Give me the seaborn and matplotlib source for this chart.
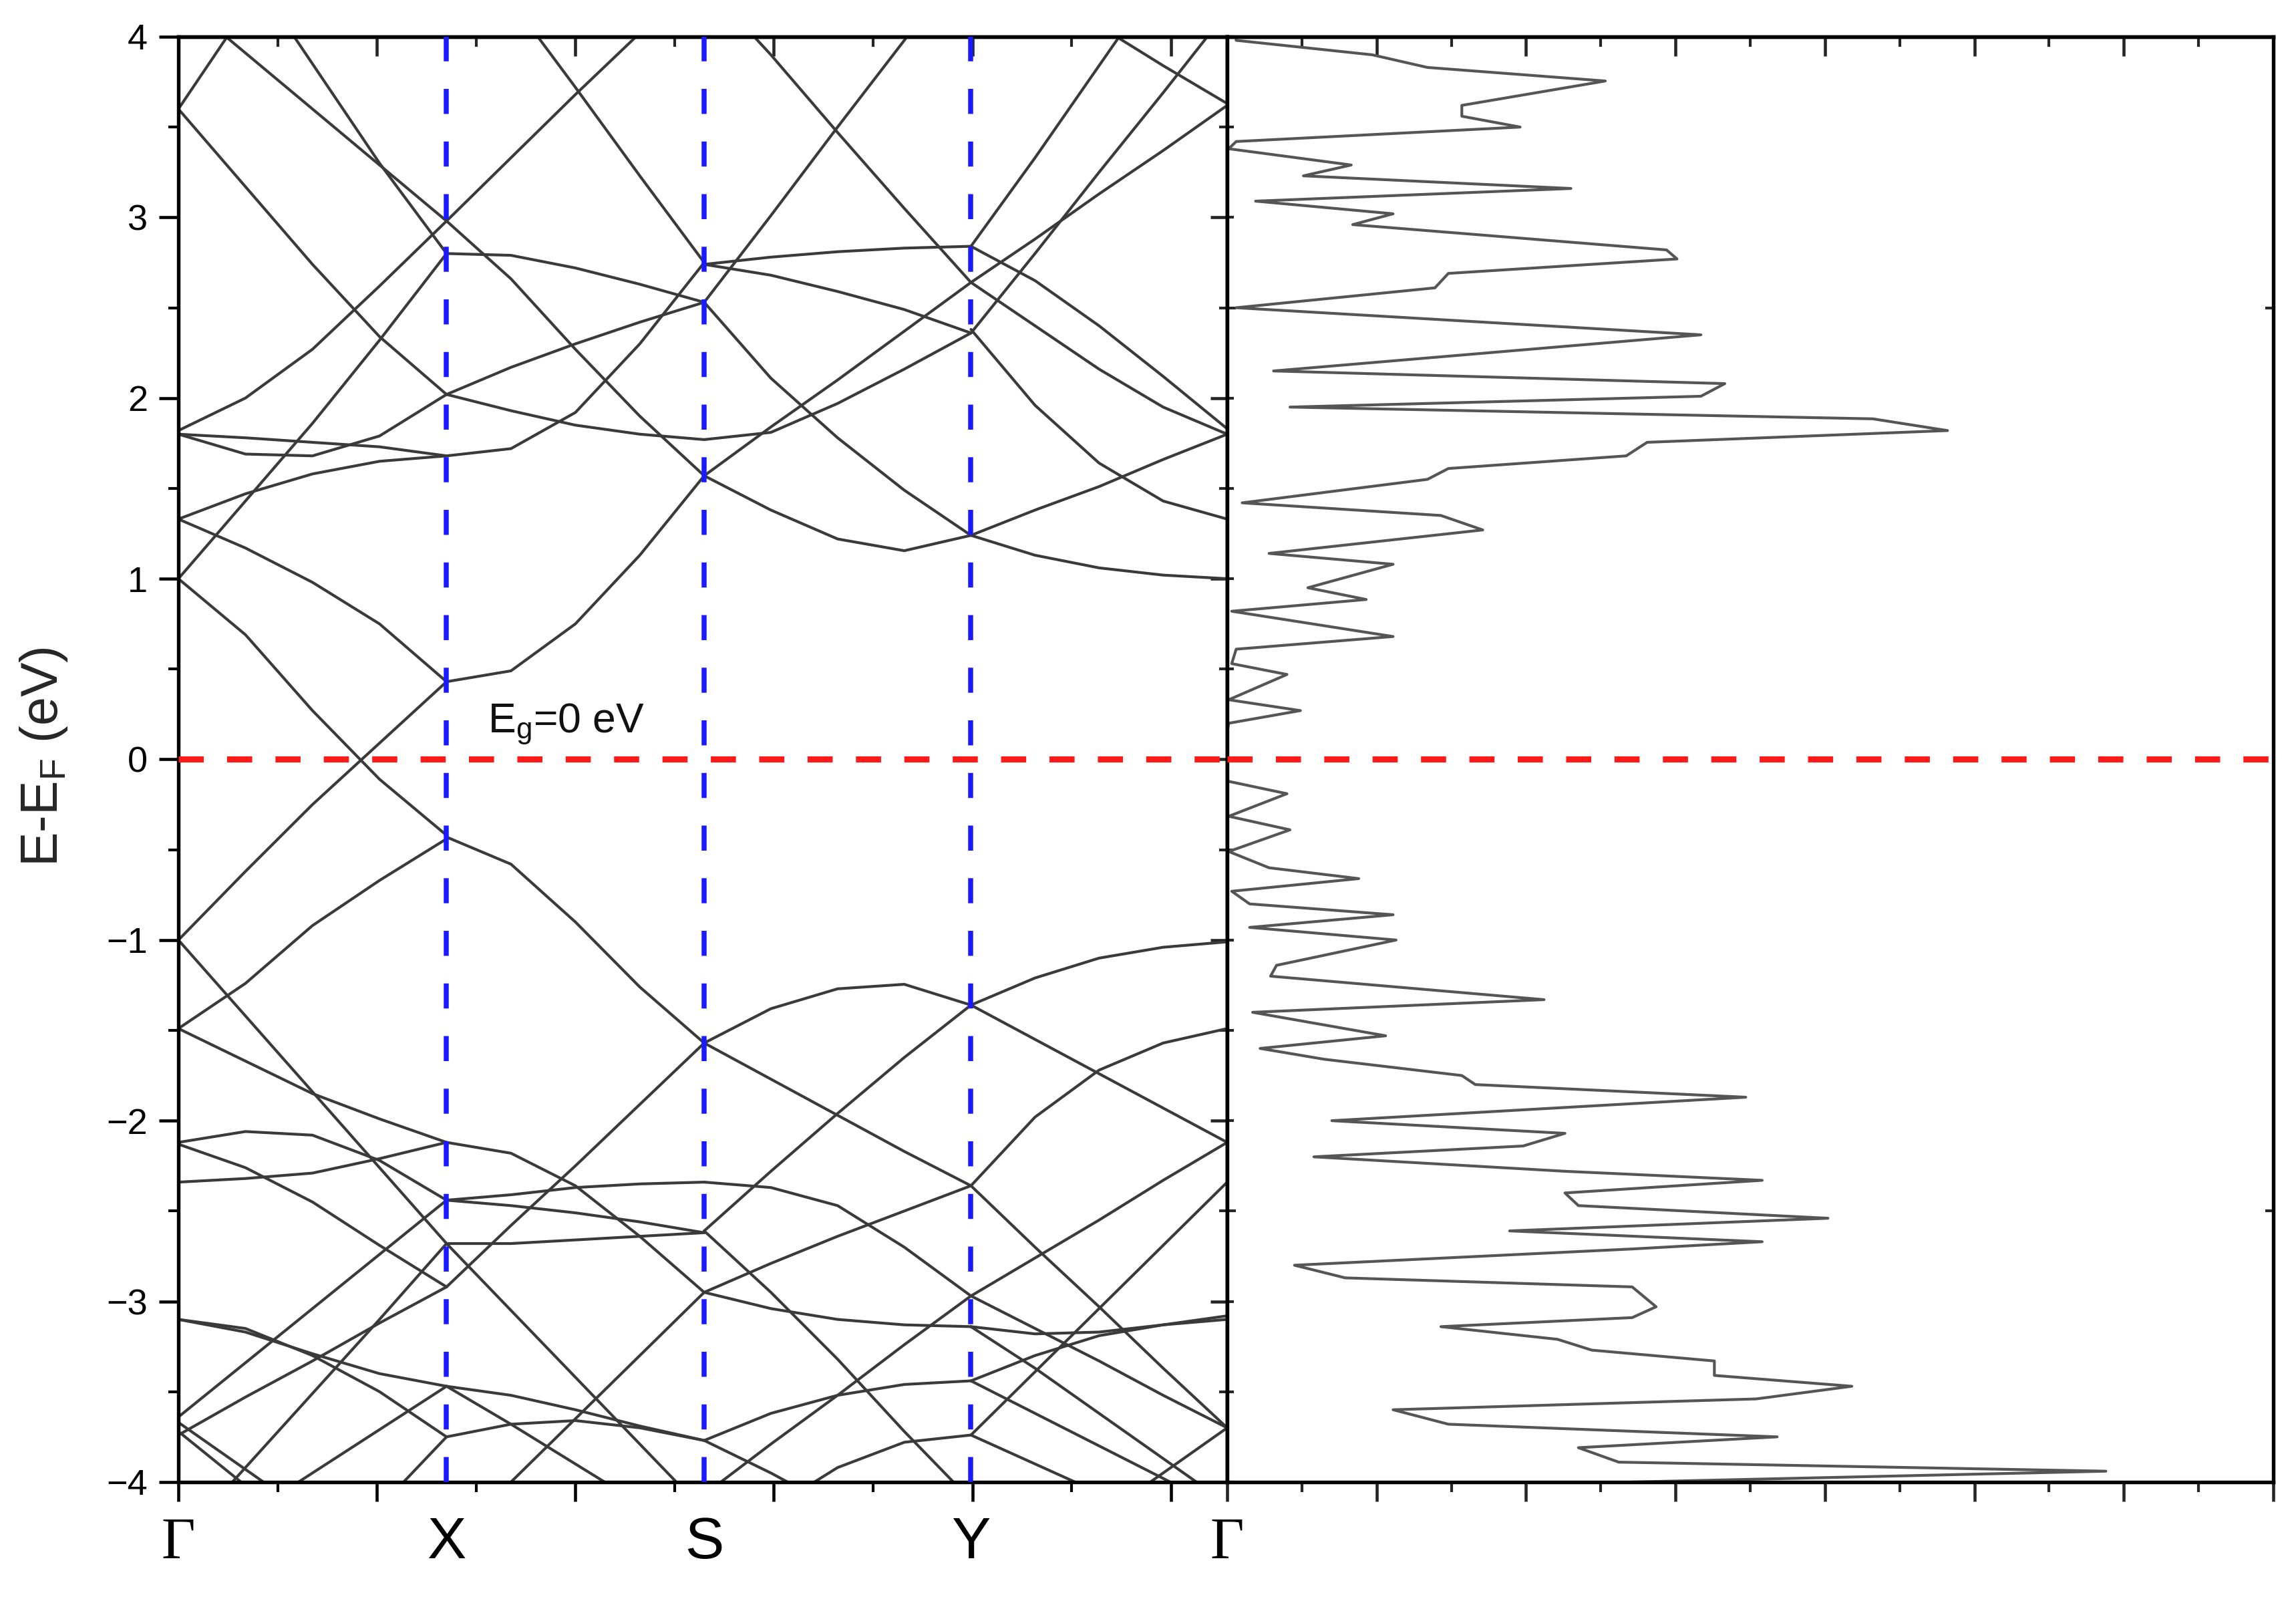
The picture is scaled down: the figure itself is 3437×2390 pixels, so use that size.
import numpy as np
import pandas as pd
import seaborn as sns
import matplotlib
matplotlib.use('Agg')
import matplotlib.pyplot as plt
from matplotlib.ticker import MultipleLocator, FixedLocator, NullFormatter

# k-path: high symmetry points and their positions on the k axis
k_labels = ['Γ', 'X', 'S', 'Y', 'Γ']
k_nodes = [0.0, 1.351, 2.649, 3.993, 5.284]
seg_frac = [0.0, 0.25, 0.5, 0.75, 1.0]

# band energies (eV) read at seg_frac along each segment
bands_gx = [
    [3.60, 4.15, 4.70, 5.25, 5.80],
    [4.22, 3.91, 3.60, 3.29, 2.98],
    [4.90, 4.40, 3.85, 3.30, 2.80],
    [3.60, 3.17, 2.74, 2.34, 2.02],
    [1.82, 2.00, 2.27, 2.62, 2.98],
    [1.00, 1.43, 1.86, 2.32, 2.80],
    [1.80, 1.78, 1.755, 1.73, 1.68],
    [1.80, 1.69, 1.68, 1.79, 2.02],
    [1.33, 1.47, 1.58, 1.65, 1.68],
    [1.33, 1.17, 0.98, 0.75, 0.43],
    [1.00, 0.69, 0.27, -0.11, -0.42],
    [-1.00, -0.62, -0.25, 0.09, 0.43],
    [-1.49, -1.24, -0.92, -0.67, -0.44],
    [-1.49, -1.67, -1.85, -1.99, -2.12],
    [-1.00, -1.42, -1.84, -2.26, -2.68],
    [-2.12, -2.06, -2.08, -2.22, -2.44],
    [-2.13, -2.26, -2.45, -2.69, -2.92],
    [-2.34, -2.32, -2.29, -2.21, -2.12],
    [-3.64, -3.34, -3.04, -2.74, -2.44],
    [-3.74, -3.53, -3.33, -3.12, -2.92],
    [-4.33, -3.92, -3.51, -3.10, -2.68],
    [-4.43, -4.19, -3.95, -3.71, -3.47],
    [-3.10, -3.15, -3.30, -3.50, -3.75],
    [-3.10, -3.17, -3.29, -3.40, -3.47],
    [-3.72, -4.02, -4.32, -4.62, -4.92],
    [-3.67, -3.93, -4.19, -4.45, -4.71],
    [-5.31, -4.92, -4.53, -4.14, -3.75],
]
bands_xs = [
    [2.98, 3.33, 3.68, 4.02, 4.37],
    [2.98, 2.66, 2.27, 1.90, 1.57],
    [2.80, 2.79, 2.72, 2.63, 2.53],
    [2.02, 2.17, 2.30, 2.42, 2.53],
    [2.02, 1.93, 1.85, 1.80, 1.77],
    [1.68, 1.72, 1.92, 2.30, 2.75],
    [4.70, 4.20, 3.72, 3.23, 2.75],
    [0.43, 0.49, 0.75, 1.13, 1.57],
    [-0.43, -0.58, -0.90, -1.26, -1.57],
    [-2.12, -2.18, -2.36, -2.64, -2.95],
    [-2.92, -2.58, -2.25, -1.91, -1.57],
    [-2.44, -2.41, -2.37, -2.35, -2.34],
    [-2.44, -2.47, -2.51, -2.56, -2.62],
    [-2.68, -2.68, -2.66, -2.64, -2.62],
    [-4.35, -4.00, -3.65, -3.30, -2.95],
    [-3.47, -3.52, -3.60, -3.69, -3.77],
    [-3.47, -3.68, -3.90, -4.12, -4.34],
    [-3.75, -3.68, -3.66, -3.70, -3.77],
    [-2.68, -3.05, -3.42, -3.79, -4.16],
]
bands_sy = [
    [4.30, 3.90, 3.47, 3.05, 2.64],
    [2.53, 3.01, 3.50, 3.98, 4.46],
    [2.74, 2.78, 2.81, 2.83, 2.84],
    [2.74, 2.68, 2.59, 2.49, 2.36],
    [2.53, 2.11, 1.78, 1.49, 1.24],
    [1.77, 1.81, 1.97, 2.16, 2.36],
    [1.57, 1.84, 2.10, 2.37, 2.64],
    [1.57, 1.38, 1.22, 1.155, 1.24],
    [-1.57, -1.38, -1.27, -1.245, -1.36],
    [-1.57, -1.77, -1.97, -2.17, -2.36],
    [-2.61, -2.28, -1.96, -1.65, -1.36],
    [-2.61, -2.95, -3.32, -3.72, -4.10],
    [-2.34, -2.37, -2.47, -2.70, -2.97],
    [-2.95, -2.79, -2.64, -2.50, -2.36],
    [-2.95, -3.04, -3.10, -3.13, -3.14],
    [-3.77, -3.62, -3.52, -3.46, -3.44],
    [-4.07, -3.79, -3.52, -3.24, -2.97],
    [-3.77, -3.95, -4.15, -4.35, -4.55],
    [-4.50, -4.15, -3.92, -3.78, -3.74],
]
bands_yg = [
    [2.84, 3.33, 3.84, 4.35, 4.86],
    [2.64, 2.88, 3.13, 3.37, 3.62],
    [4.50, 4.28, 4.06, 3.84, 3.63],
    [2.36, 2.80, 3.25, 3.69, 4.14],
    [2.84, 2.65, 2.40, 2.12, 1.83],
    [2.64, 2.40, 2.16, 1.95, 1.80],
    [2.38, 1.96, 1.64, 1.43, 1.33],
    [1.24, 1.38, 1.51, 1.66, 1.80],
    [1.24, 1.13, 1.06, 1.02, 1.00],
    [-1.36, -1.21, -1.10, -1.04, -1.01],
    [-1.36, -1.55, -1.74, -1.93, -2.12],
    [-2.36, -1.98, -1.72, -1.57, -1.49],
    [-2.36, -2.70, -3.03, -3.37, -3.70],
    [-2.97, -2.76, -2.55, -2.33, -2.12],
    [-2.97, -3.15, -3.33, -3.52, -3.70],
    [-3.14, -3.18, -3.17, -3.13, -3.08],
    [-3.14, -3.37, -3.62, -3.87, -4.12],
    [-3.44, -3.30, -3.19, -3.13, -3.10],
    [-3.44, -3.62, -3.80, -3.98, -4.16],
    [-3.74, -3.39, -3.04, -2.69, -2.34],
    [-3.74, -3.90, -4.06, -4.22, -4.38],
    [-4.70, -4.45, -4.20, -3.95, -3.70],
]

# density of states trace (energy from top to bottom)
dos_energy = [4.05, 3.98, 3.90, 3.83, 3.755, 3.62, 3.56, 3.50, 3.42, 3.38,
              3.29, 3.23, 3.16, 3.09, 3.02, 2.96, 2.82, 2.77, 2.69, 2.61,
              2.50, 2.35, 2.15, 2.08, 2.01, 1.95, 1.885, 1.82, 1.755, 1.68,
              1.61, 1.55, 1.42, 1.35, 1.27, 1.14, 1.08, 0.95, 0.885, 0.82,
              0.68, 0.61, 0.53, 0.47, 0.33, 0.27, 0.20, 0.15, -0.12, -0.19,
              -0.315, -0.39, -0.51, -0.60, -0.66, -0.73, -0.80, -0.86, -0.93, -1.00,
              -1.14, -1.20, -1.33, -1.40, -1.53, -1.60, -1.66, -1.75, -1.80, -1.87,
              -2.00, -2.07, -2.14, -2.20, -2.28, -2.33, -2.40, -2.47, -2.54, -2.61,
              -2.67, -2.71, -2.80, -2.87, -2.92, -3.03, -3.09, -3.14, -3.21, -3.27,
              -3.33, -3.41, -3.47, -3.54, -3.60, -3.68, -3.75, -3.81, -3.89, -3.94,
              -4.00, -4.05]
dos_value = [0.05, 0.06, 0.97, 1.34, 2.53, 1.57, 1.57, 1.96, 0.06, 0.01,
             0.83, 0.51, 2.30, 0.19, 1.11, 0.84, 2.94, 3.01, 1.48, 1.39,
             0.06, 3.17, 0.31, 3.33, 3.17, 0.42, 4.32, 4.82, 2.81, 2.67,
             1.48, 1.34, 0.10, 1.43, 1.71, 0.28, 1.11, 0.54, 0.93, 0.03,
             1.11, 0.06, 0.03, 0.40, 0.01, 0.49, 0.01, 0.00, 0.00, 0.40,
             0.01, 0.42, 0.01, 0.28, 0.88, 0.03, 0.15, 1.11, 0.15, 1.13,
             0.33, 0.29, 2.12, 0.17, 1.06, 0.22, 0.65, 1.57, 1.66, 3.47,
             0.70, 2.26, 1.98, 0.58, 2.26, 3.58, 2.26, 2.35, 4.02, 1.89,
             3.58, 2.71, 0.45, 0.79, 2.71, 2.87, 2.71, 1.43, 2.21, 2.44,
             3.26, 3.26, 4.18, 3.54, 1.11, 1.48, 3.68, 2.35, 2.62, 5.88,
             2.71, 2.00]

eg_label = 'E$_g$=0 eV'
y_label = 'E-E$_F$ (eV)'

# long table of band lines
rows = []
for s, seg_bands in enumerate([bands_gx, bands_xs, bands_sy, bands_yg]):
    k0, k1 = k_nodes[s], k_nodes[s + 1]
    ks = [k0 + f * (k1 - k0) for f in seg_frac]
    for i, energies in enumerate(seg_bands):
        for kk, ee in zip(ks, energies):
            rows.append((f'{s}_{i}', kk, ee))
band_df = pd.DataFrame(rows, columns=['line', 'k', 'E'])

sns.set_theme(style='ticks')
plt.rcParams['font.family'] = ['Liberation Sans', 'DejaVu Sans']
plt.rcParams['mathtext.default'] = 'regular'
plt.rcParams['axes.unicode_minus'] = True

fig = plt.figure(figsize=(3437 / 300, 2390 / 300), dpi=300)
ax_b = fig.add_axes([0.0777, 0.072, 0.4568, 0.905])
ax_d = fig.add_axes([0.5345, 0.072, 0.4556, 0.905])

blue = '#1a1aff'
red = '#ff1a1a'

# band structure
sns.lineplot(data=band_df, x='k', y='E', units='line', estimator=None, sort=False,
             color='#3a3a3a', lw=1.0, ax=ax_b, legend=False, zorder=2)
for kk in k_nodes[1:4]:
    ax_b.axvline(kk, color=blue, lw=1.8, dashes=(5.0, 5.5), zorder=3)
ax_b.axhline(0, color=red, lw=2.2, dashes=(4.1, 3.8), zorder=3)
ax_b.set_xlim(k_nodes[0], k_nodes[-1])
ax_b.set_ylim(-4, 4)
ax_b.set_xlabel('')
ax_b.set_ylabel('')

ax_b.xaxis.set_major_locator(MultipleLocator(1))
ax_b.xaxis.set_minor_locator(MultipleLocator(0.5))
ax_b.xaxis.set_major_formatter(NullFormatter())
ax_b.yaxis.set_major_locator(MultipleLocator(1))
ax_b.yaxis.set_minor_locator(MultipleLocator(0.5))
ax_b.tick_params(which='major', direction='out', length=7, width=1.1,
                 labelsize=13, color='black', labelcolor='black', pad=4)
ax_b.tick_params(which='minor', direction='out', length=3.5, width=1.0, color='black')

sec_t = ax_b.secondary_xaxis('top')
sec_t.set_xticks(np.arange(0, 6, 1))
sec_t.set_xticks(np.arange(0.5, 5.3, 1), minor=True)
sec_t.tick_params(which='major', direction='in', length=7, width=1.1, labeltop=False)
sec_t.tick_params(which='minor', direction='in', length=3.5, width=1.0)
sec_r = ax_b.secondary_yaxis('right')
sec_r.set_yticks(np.arange(-4, 5, 1))
sec_r.set_yticks(np.arange(-3.5, 4, 1), minor=True)
sec_r.tick_params(which='major', direction='in', length=6, width=1.1, labelright=False)
sec_r.tick_params(which='minor', direction='in', length=3, width=1.0)

ax_b.text(1.559, 0.15, eg_label, fontsize=15, ha='left', va='baseline', color='#111111')

for kk, lab in zip(k_nodes, k_labels):
    fam = ['Liberation Serif', 'DejaVu Serif'] if lab == 'Γ' else ['Liberation Sans', 'DejaVu Sans']
    ax_b.annotate(lab, xy=(kk, 0), xycoords=('data', 'axes fraction'),
                  xytext=(0, -22), textcoords='offset points',
                  ha='center', va='center', fontsize=21, family=fam, color='black')

fig.text(0.019, 0.526, y_label, rotation=90, ha='center', va='center', fontsize=18.5)

# density of states
sns.lineplot(x=dos_value, y=dos_energy, sort=False, estimator=None,
             color='#555555', lw=1.0, ax=ax_d, zorder=2)
ax_d.axhline(0, color=red, lw=2.2, dashes=(4.1, 3.8), zorder=3)
ax_d.set_xlim(0, 7)
ax_d.set_ylim(-4, 4)
ax_d.xaxis.set_major_locator(MultipleLocator(1))
ax_d.xaxis.set_minor_locator(MultipleLocator(0.5))
ax_d.xaxis.set_major_formatter(NullFormatter())
ax_d.tick_params(axis='x', which='major', direction='out', length=7, width=1.1)
ax_d.tick_params(axis='x', which='minor', direction='out', length=3.5, width=1.0)
ax_d.yaxis.set_major_locator(FixedLocator([-2.5, 2.5]))
ax_d.yaxis.set_minor_locator(MultipleLocator(0.5))
ax_d.yaxis.set_major_formatter(NullFormatter())
ax_d.tick_params(axis='y', which='major', direction='in', length=3, width=1.0,
                 left=True, right=True, labelleft=False)
ax_d.tick_params(axis='y', which='minor', direction='in', length=2.5, width=1.0,
                 left=True, right=False)
sec_dt = ax_d.secondary_xaxis('top')
sec_dt.set_xticks(np.arange(0, 8, 1))
sec_dt.set_xticks(np.arange(0.5, 7, 1), minor=True)
sec_dt.tick_params(which='major', direction='in', length=7, width=1.1, labeltop=False)
sec_dt.tick_params(which='minor', direction='in', length=3.5, width=1.0)

for ax in (ax_b, ax_d):
    for sp in ax.spines.values():
        sp.set_linewidth(1.3)
        sp.set_color('black')
for sec in (sec_t, sec_r, sec_dt):
    for sp in sec.spines.values():
        sp.set_linewidth(1.3)
        sp.set_color('black')

fig.savefig('out.png', dpi=300)
